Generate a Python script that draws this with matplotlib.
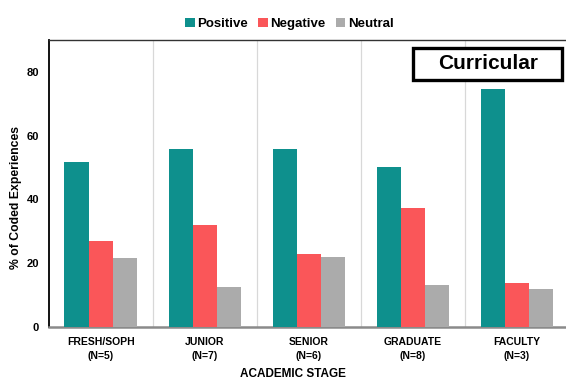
import matplotlib
matplotlib.use("Agg")
import matplotlib.pyplot as plt
from matplotlib.patches import Rectangle
import numpy as np

plt.rcParams['font.family'] = ['Liberation Sans', 'DejaVu Sans']

stages = ["FRESH/SOPH\n(N=5)", "JUNIOR\n(N=7)", "SENIOR\n(N=6)", "GRADUATE\n(N=8)", "FACULTY\n(N=3)"]
positive = [51.8, 55.7, 55.7, 50.2, 74.6]
negative = [27.0, 32.1, 22.9, 37.2, 13.9]
neutral = [21.5, 12.6, 21.9, 13.2, 11.9]
series_names = ["Positive", "Negative", "Neutral"]
colors = ["#0E908D", "#FA5659", "#ABABAB"]

fig = plt.figure(figsize=(5.66, 3.79), dpi=100)
ax = fig.add_axes([0.086, 0.137, 0.919, 0.758])

x = np.arange(len(stages))
w = 0.232
for i, (vals, name, c) in enumerate(zip([positive, negative, neutral], series_names, colors)):
    ax.bar(x + (i - 1) * w, vals, width=w, color=c, label=name, zorder=3)

ax.set_xlim(-0.5, len(stages) - 0.5)
ax.set_ylim(0, 90)
ax.set_yticks([0, 20, 40, 60, 80])
ax.set_xticks(x)
ax.set_xticklabels(stages, fontsize=7.5, fontweight='bold', linespacing=1.55)
for lab in ax.get_yticklabels():
    lab.set_fontsize(8)
    lab.set_fontweight('bold')
ax.tick_params(axis='both', length=0)
ax.tick_params(axis='x', pad=7)
ax.tick_params(axis='y', pad=7)

for b in np.arange(0.5, len(stages) - 0.5, 1):
    ax.axvline(b, color='#D8D8D8', lw=0.9, zorder=1)

ax.spines['left'].set_color('black')
ax.spines['left'].set_linewidth(1.3)
ax.spines['top'].set_color('#333333')
ax.spines['top'].set_linewidth(1.0)
ax.spines['bottom'].set_color('#8A8A8A')
ax.spines['bottom'].set_linewidth(1.8)
ax.spines['right'].set_visible(False)

ax.set_ylabel("% of Coded Experiences", fontsize=8.8, fontweight='bold')
ax.yaxis.set_label_coords(-0.052, 0.451)
ax.set_xlabel("ACADEMIC STAGE", fontsize=8.5, fontweight='bold')
ax.xaxis.set_label_coords(0.469, -0.141)

# title box in the upper right corner of the plot area
ax.add_patch(Rectangle((0.7006, 0.861), 0.2864, 0.111, transform=ax.transAxes,
                       fc='white', ec='black', lw=2.4, zorder=5, clip_on=False))
ax.text(0.844, 0.918, "Curricular", transform=ax.transAxes, ha='center', va='center',
        fontsize=15, fontweight='bold', zorder=6)

fig.legend(loc='upper center', bbox_to_anchor=(0.5115, 0.985), ncol=3, frameon=False,
           prop=dict(size=9.5, weight='bold'), handlelength=0.7, handleheight=0.7,
           handletextpad=0.2, columnspacing=0.8)

fig.savefig("out.png", dpi=100)
